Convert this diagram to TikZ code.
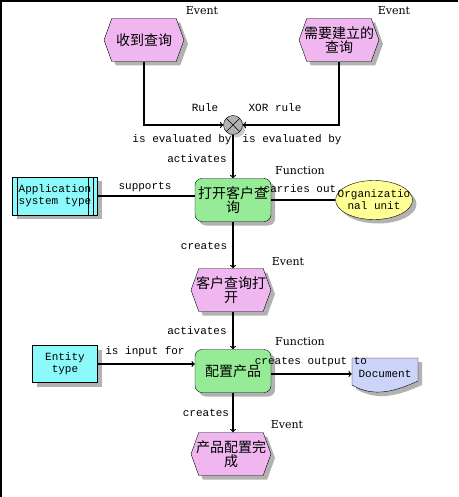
\documentclass[tikz,border=0pt]{standalone}
\usepackage{fontspec}
\setmainfont{DejaVu Serif}
\setmonofont{Liberation Mono}
\newfontfamily\cjk{Noto Sans CJK SC}
\usepackage{tikz}
\usetikzlibrary{shapes.geometric,shapes.symbols,shadows,arrows}
\definecolor{evpink}{RGB}{240,182,240}
\definecolor{fngreen}{RGB}{150,236,150}
\definecolor{syscyan}{RGB}{140,250,250}
\definecolor{orgyellow}{RGB}{255,255,150}
\definecolor{docblue}{RGB}{204,212,250}
\definecolor{shgray}{RGB}{178,178,178}
\newcommand{\zh}{\cjk\fontsize{14}{14}\selectfont}
\newcommand{\mono}{\ttfamily\fontsize{11}{12}\selectfont}

\begin{document}
\begin{tikzpicture}[x=1pt,y=-1pt,
        dropsh/.style={drop shadow={shadow xshift=4pt,shadow yshift=-4pt,fill=shgray,opacity=1}},
        event/.style={shape=signal,signal to=east and west,signal pointer angle=140,draw,fill=evpink,dropsh,
            minimum width=80pt,minimum height=43pt,inner xsep=-8pt,inner ysep=0pt,align=center,font=\zh},
        func/.style={rectangle,rounded corners=7pt,draw,fill=fngreen,dropsh,
            minimum width=76pt,minimum height=43pt,inner sep=0pt,align=center,font=\zh},
        objbox/.style={rectangle,draw,fill=syscyan,dropsh,inner sep=0pt,align=center,font=\mono},
        rel/.style={inner sep=0pt,font=\mono},
        kind/.style={inner sep=0pt,font=\fontsize{11}{12}\selectfont},
        flow/.style={line width=1.2pt,->}]
    \useasboundingbox (0,0) rectangle (458,497);
    \draw[line width=2pt] (1,497) -- (1,1) -- (458,1);

    % events and functions down the middle
    \node[event] (ev1) at (144,40) {收到查询};
    \node[event] (ev2) at (339,40) {需要建立的\\查询};
    \node[circle,draw,fill=shgray,drop shadow={shadow xshift=3pt,shadow yshift=-3pt,fill=gray!40,opacity=1},
        minimum size=19pt,inner sep=0pt] (xor) at (233,125) {};
    \draw (xor.north west) -- (xor.south east) (xor.north east) -- (xor.south west);
    \node[func] (f1) at (233,200) {打开客户查\\询};
    \node[event] (ev3) at (231,290) {客户查询打\\开};
    \node[func] (f2) at (233,371) {配置产品};
    \node[event] (ev4) at (231,454) {产品配置完\\成};

    % objects at the sides
    \node[objbox,minimum width=85pt,minimum height=38pt] (app) at (55,196) {Application\\system type};
    \draw ([xshift=5pt]app.north west) -- ([xshift=5pt]app.south west);
    \draw ([xshift=-5pt]app.north east) -- ([xshift=-5pt]app.south east);
    \draw ([xshift=-10pt]app.north east) -- ([xshift=-10pt]app.south east);
    \node[ellipse,draw,fill=orgyellow,dropsh,minimum width=77pt,minimum height=39pt,
        inner xsep=-20pt,inner ysep=0pt,align=center,font=\mono] (org) at (374,200) {Organizatio\\nal unit};
    \node[objbox,minimum width=65pt,minimum height=37pt] (ent) at (65,364) {Entity\\type};
    \path[fill=shgray,shift={(4,4)}] (352,358) -- (418,358) -- (418,381)
        .. controls (396,391) and (374,398) .. (352,385) -- cycle;
    \draw[fill=docblue] (352,358) -- (418,358) -- (418,381)
        .. controls (396,391) and (374,398) .. (352,385) -- cycle;
    \node[rel,minimum width=66pt] (doc) at (385,374) {Document};

    % connectors
    \draw[flow] (ev1.south) |- (xor.west);
    \draw[flow] (ev2.south) |- (xor.east);
    \draw[flow] (xor.south) -- (f1.north);
    \draw[line width=1.2pt] (app.east) -- (app.east -| f1.west);
    \draw[line width=1.2pt] (f1.east) -- (org.west);
    \draw[flow] (f1.south) -- (ev3.north -| f1.south);
    \draw[flow] (ev3.south -| f2.north) -- (f2.north);
    \draw[flow] (ent.east) -- (ent.east -| f2.west);
    \draw[flow] (f2.east |- doc.west) -- (doc.west);
    \draw[flow] (f2.south) -- (ev4.north -| f2.south);

    % labels
    \node[kind] (ev1kind) at (202,11) {Event};
    \node[kind] (ev2kind) at (394,11) {Event};
    \node[rel] (rulel) at (205,108) {Rule};
    \node[rel] (rulexor) at (275,108) {XOR rule};
    \node[rel] (evall) at (182,140) {is evaluated by};
    \node[rel] (evalr) at (292,140) {is evaluated by};
    \node[rel] (act1) at (197,159) {activates};
    \node[kind] (f1kind) at (300,171) {Function};
    \node[rel] (supp) at (145,187) {supports};
    \node[rel] (carry) at (300,189) {carries out};
    \node[rel] (cre1) at (204,246) {creates};
    \node[kind] (ev3kind) at (288,262) {Event};
    \node[rel] (act2) at (197,331) {activates};
    \node[kind] (f2kind) at (300,342) {Function};
    \node[rel] (inp) at (145,352) {is input for};
    \node[rel] (outp) at (311,362) {creates output to};
    \node[rel] (cre2) at (206,413) {creates};
    \node[kind] (ev4kind) at (287,425) {Event};
\end{tikzpicture}
\end{document}
